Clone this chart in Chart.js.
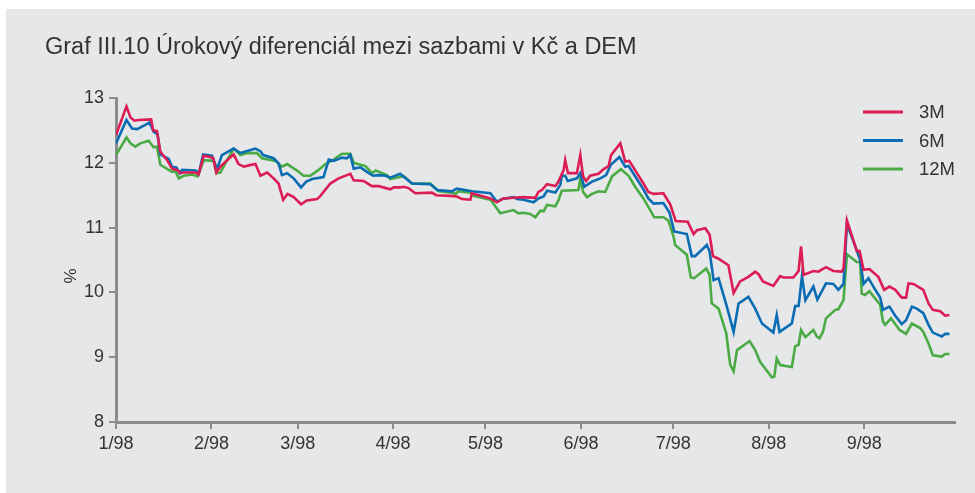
<!DOCTYPE html>
<html>
<head>
<meta charset="utf-8">
<script src="https://cdn.jsdelivr.net/npm/chart.js@4"></script>
<style>
  html, body { margin: 0; padding: 0; background: #ffffff; }
  canvas { display: block; }
</style>
</head>
<body>
<canvas id="c" width="975" height="493"></canvas>
<script>
// ---- Data (days since 1 Jan 1998, interest-rate differential in %) ----
const seriesNames = ['3M', '6M', '12M'];
const monthTickDays = [0, 31, 59, 90, 120, 151, 181, 212, 243];
const monthTickLabels = ['1/98', '2/98', '3/98', '4/98', '5/98', '6/98', '7/98', '8/98', '9/98'];
const yTickValues = [8, 9, 10, 11, 12, 13];

const days3M = [0,3.4,4.7,6,7.3,11.4,12.1,13.3,14.4,16.6,18.2,19.8,20.9,22,25.8,26.8,28.5,30.6,31.6,32.6,33.9,36.1,38.2,39.8,41.5,43.1,45.3,46.9,49.1,51.2,52.8,54.3,55.7,57.7,60.1,62,65.3,66.4,69.6,72.3,76.1,77.2,80.4,83.1,85.3,89.1,90.2,92.3,93.4,95,97.2,102.6,104,108.6,110.7,112.4,115.1,115.6,121.6,123.7,125.9,129.1,132.4,136.2,137.2,138.3,140,142.7,143.7,145.4,145.9,146.8,149.7,150.8,151.7,152.7,154,156.7,158.3,160,160.8,163.8,165.4,166.7,169.2,171.3,172.9,174.6,177.8,180,181.8,185.7,187.6,188.7,191.4,192.8,193.9,195.7,198.9,200.6,202.7,205.4,207.6,208.7,210.1,213.5,215.7,216.8,220,221.7,222.5,223.3,226.5,228.1,230.6,233,235.7,236.3,237.4,240.6,241.5,242.8,244.7,247.6,249.5,251.2,253.1,255.2,256.6,257.4,259,262.2,263.9,265.3,267.7,269.3,270.7];
const rate3M = [12.43,12.87,12.70,12.65,12.66,12.67,12.50,12.49,12.17,12.04,11.91,11.89,11.84,11.85,11.85,11.82,12.11,12.09,12.07,11.85,11.94,12.04,12.13,11.98,11.94,11.96,11.98,11.80,11.85,11.76,11.68,11.43,11.52,11.47,11.36,11.42,11.44,11.49,11.68,11.76,11.83,11.73,11.72,11.64,11.64,11.59,11.62,11.62,11.63,11.61,11.53,11.54,11.50,11.49,11.48,11.44,11.43,11.53,11.45,11.39,11.45,11.46,11.47,11.46,11.55,11.58,11.67,11.64,11.71,11.89,12.04,11.84,11.84,12.12,11.79,11.72,11.80,11.83,11.90,11.95,12.12,12.30,12.02,12.03,11.84,11.68,11.55,11.52,11.53,11.36,11.10,11.09,10.90,10.96,10.99,10.89,10.56,10.52,10.42,9.99,10.17,10.24,10.32,10.28,10.17,10.10,10.25,10.23,10.23,10.33,10.71,10.27,10.33,10.32,10.39,10.33,10.32,10.37,11.11,10.64,10.64,10.35,10.36,10.24,10.04,10.09,10.04,9.92,9.92,10.14,10.13,10.04,9.83,9.73,9.71,9.64,9.65];

const days6M = [0,3.4,5.2,6.9,10.9,12.2,13.5,14.4,17.1,18.2,19.6,20.7,21.5,25.8,26.9,28.3,31.2,32.8,34.4,38.2,40.4,45.3,46.9,47.8,51.2,52.8,53.9,55.6,57.7,60.1,61.8,63.7,67.4,69.1,70.7,73.4,75,76.1,77.2,79.4,81.5,83.5,85.3,87.5,89.1,92.3,96.1,102.1,104.3,109.1,110.7,115.6,121.6,123.7,125.4,129.1,130.2,132.4,135.6,137.2,138.9,140,142.7,144.3,144.8,145.9,146.7,149.7,150.8,152.1,154.6,157.3,159.2,160.7,163.5,165.4,166.5,171.3,172.9,174.6,177.8,179.8,181.3,185.4,187,188.1,191.9,192.8,194.1,195.7,198.4,200.6,202.2,205.4,207.6,209.8,213.5,214.6,215.5,219.5,220.6,221.7,222.8,223.9,226.5,227.8,230.6,233,234.6,236.3,237.4,240.1,241.7,242.8,244.4,246.6,248.2,249.1,251.2,253.1,255.2,256.6,258.5,260.1,262.2,263.9,265.3,268.2,269.3,270.7];
const rate6M = [12.30,12.66,12.53,12.52,12.62,12.48,12.44,12.13,12.06,11.94,11.93,11.84,11.89,11.88,11.84,12.13,12.11,11.90,12.12,12.22,12.15,12.22,12.18,12.12,12.07,11.99,11.81,11.84,11.76,11.62,11.71,11.75,11.78,12.05,12.03,12.08,12.07,12.12,11.91,11.93,11.86,11.80,11.81,11.80,11.77,11.83,11.68,11.67,11.58,11.56,11.60,11.56,11.53,11.40,11.44,11.47,11.44,11.43,11.39,11.45,11.48,11.57,11.54,11.66,11.80,11.80,11.72,11.76,11.84,11.63,11.71,11.76,11.81,11.97,12.09,11.94,11.95,11.59,11.45,11.37,11.38,11.23,10.94,10.90,10.56,10.56,10.73,10.63,10.19,10.22,9.78,9.39,9.83,9.93,9.75,9.52,9.38,9.65,9.39,9.52,9.79,9.79,10.25,9.88,10.09,9.89,10.14,10.13,10.04,10.13,11.06,10.71,10.50,10.13,10.22,10.04,9.92,9.73,9.78,9.64,9.51,9.57,9.78,9.75,9.68,9.50,9.38,9.32,9.36,9.36];

const days12M = [0,3.4,4.7,6.3,7.9,10.6,12.2,13.3,14.4,18.2,19.3,20.4,22,24.7,26.5,28.5,31.7,32.6,33.9,35.5,38.2,40.4,42.6,45.8,47.4,51.8,53.9,55.6,58.8,60.9,63.1,65.8,68,70.7,73.4,76.1,77.2,81,83.2,84.3,88,89.1,92.3,93.6,96.1,102.1,104.8,109.1,110.2,111.3,115.1,116.1,121.6,123.2,124.8,129.1,130.7,132.4,134.5,136.2,137.8,138.9,140,142.7,143.7,144.8,150.2,150.8,151.7,153,154.6,156.7,158.9,161.1,164,166.5,168.6,171.3,173.5,174.8,177.8,179.4,181.1,181.6,185.4,186.7,187.8,191.7,192.8,193.5,195.7,198.2,199.5,200.6,201.7,205.8,207.6,209.2,213,213.8,214.6,215.7,219.5,220.6,221.7,222.5,223.9,226.5,227.6,228.5,229.6,230.6,233.6,234.6,236.3,237.4,240.6,241.7,242.2,243.3,244.7,248.2,249.1,249.8,251.7,254.5,256.6,258.5,261.2,262.2,263.9,265.3,268.2,269.3,270.7];
const rate12M = [12.12,12.39,12.30,12.25,12.30,12.34,12.24,12.25,11.97,11.86,11.87,11.76,11.80,11.82,11.79,12.04,12.03,11.84,11.85,11.99,12.22,12.12,12.15,12.15,12.07,12.03,11.94,11.98,11.88,11.80,11.80,11.89,11.98,12.05,12.14,12.14,12.00,11.95,11.84,11.88,11.81,11.75,11.78,11.79,11.68,11.68,11.56,11.54,11.52,11.56,11.54,11.49,11.43,11.33,11.22,11.27,11.22,11.23,11.21,11.16,11.26,11.25,11.35,11.33,11.42,11.57,11.58,11.75,11.55,11.47,11.52,11.56,11.55,11.79,11.90,11.80,11.63,11.45,11.27,11.16,11.16,11.11,10.86,10.73,10.58,10.23,10.22,10.37,10.27,9.83,9.75,9.37,8.88,8.78,9.11,9.25,9.11,8.93,8.69,8.70,8.98,8.88,8.85,9.17,9.19,9.42,9.31,9.42,9.32,9.29,9.39,9.60,9.73,9.74,9.88,10.59,10.47,10.47,9.98,9.96,10.02,9.81,9.55,9.50,9.60,9.42,9.36,9.52,9.45,9.39,9.21,9.03,9.01,9.05,9.05];

const seriesColors = ['#dc1c54', '#0a6cb3', '#4aab45'];
const titleText = 'Graf III.10 Úrokový diferenciál mezi sazbami v Kč a DEM';
const yAxisTitle = '%';

// ---- Build chart ----
const toPoints = (xs, ys) => xs.map((x, i) => ({ x: x, y: ys[i] }));
const allDays = [days3M, days6M, days12M];
const allRates = [rate3M, rate6M, rate12M];

const FONT = "'Liberation Sans', sans-serif";
const AXIS = '#8c8c8c';
const TEXT = '#333333';

const decorPlugin = {
  id: 'decor',
  beforeDraw(chart) {
    const ctx = chart.ctx;
    ctx.save();
    ctx.fillStyle = '#ffffff';
    ctx.fillRect(0, 0, chart.width, chart.height);
    ctx.fillStyle = '#e6e7e9';
    ctx.fillRect(6, 9, chart.width - 6, chart.height - 9);
    ctx.restore();
  },
  afterDraw(chart) {
    const ctx = chart.ctx;
    ctx.save();
    // title
    ctx.fillStyle = TEXT;
    ctx.font = "23.5px " + FONT;
    ctx.textBaseline = 'alphabetic';
    ctx.textAlign = 'left';
    ctx.fillText(titleText, 45, 54);
    // y-axis title
    ctx.save();
    ctx.translate(76, 276);
    ctx.rotate(-Math.PI / 2);
    ctx.font = "17px " + FONT;
    ctx.textAlign = 'center';
    ctx.fillText(yAxisTitle, 0, 0);
    ctx.restore();
    // legend
    chart.data.datasets.forEach((ds, i) => {
      const y = 112 + i * 28.5;
      ctx.strokeStyle = ds.borderColor;
      ctx.lineWidth = 3;
      ctx.beginPath();
      ctx.moveTo(863, y);
      ctx.lineTo(903, y);
      ctx.stroke();
      ctx.fillStyle = TEXT;
      ctx.font = "18.5px " + FONT;
      ctx.textAlign = 'left';
      ctx.textBaseline = 'middle';
      ctx.fillText(ds.label, 919, y + 1);
    });
    ctx.restore();
  }
};

new Chart(document.getElementById('c'), {
  type: 'line',
  data: {
    datasets: seriesNames.map((name, i) => ({
      label: name,
      data: toPoints(allDays[i], allRates[i]),
      borderColor: seriesColors[i],
      backgroundColor: seriesColors[i],
      borderWidth: 2.6,
      pointRadius: 0,
      tension: 0,
      fill: false
    }))
  },
  options: {
    responsive: false,
    animation: false,
    devicePixelRatio: 1,
    layout: { padding: { left: 0, right: 20, top: 98, bottom: 0 } },
    plugins: {
      legend: { display: false },
      title: { display: false },
      tooltip: { enabled: false }
    },
    scales: {
      x: {
        type: 'linear',
        min: 0,
        max: 272.5,
        afterBuildTicks: (s) => { s.ticks = monthTickDays.map(v => ({ value: v })); },
        afterFit: (s) => { s.height = 71; },
        ticks: {
          autoSkip: false,
          maxRotation: 0,
          padding: 4,
          color: TEXT,
          font: { family: FONT, size: 18 },
          callback: (v, i) => monthTickLabels[i]
        },
        grid: { display: true, drawOnChartArea: false, drawTicks: true, tickLength: 7, color: AXIS, lineWidth: 2 },
        border: { display: true, color: AXIS, width: 3 }
      },
      y: {
        min: 8,
        max: 13,
        afterBuildTicks: (s) => { s.ticks = yTickValues.map(v => ({ value: v })); },
        afterFit: (s) => { s.width = 116; },
        ticks: {
          padding: 5,
          color: TEXT,
          font: { family: FONT, size: 18 },
          callback: (v) => String(v)
        },
        grid: { display: true, drawOnChartArea: false, drawTicks: true, tickLength: 7, color: AXIS, lineWidth: 2 },
        border: { display: true, color: AXIS, width: 3 }
      }
    }
  },
  plugins: [decorPlugin]
});
</script>
</body>
</html>
